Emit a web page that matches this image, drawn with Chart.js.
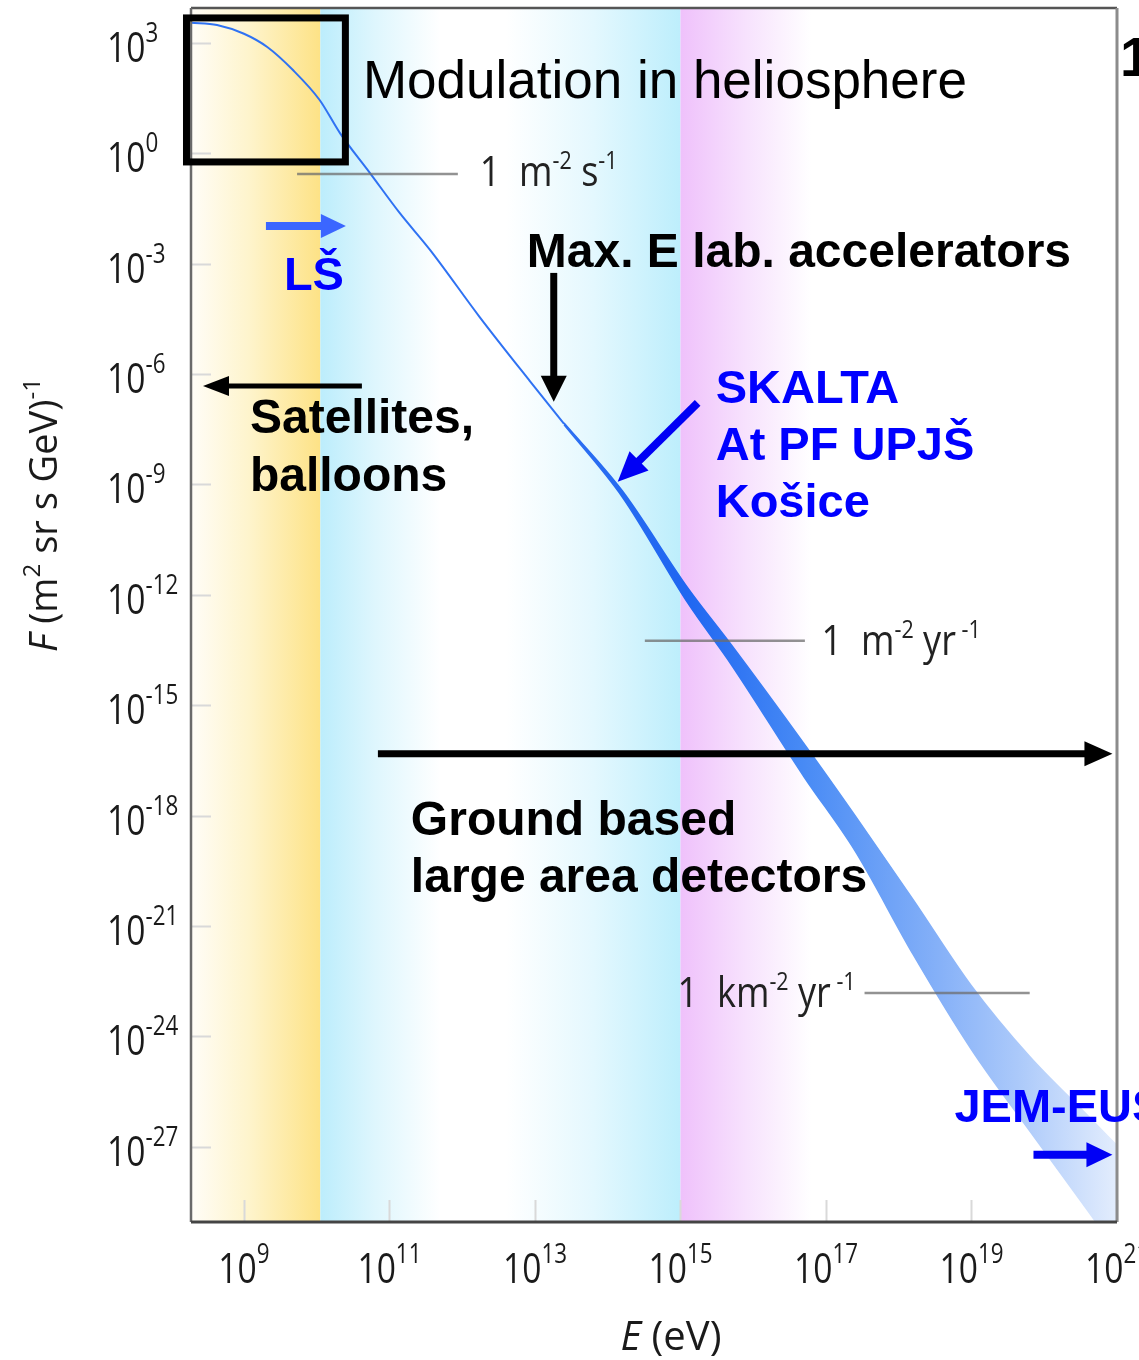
<!DOCTYPE html>
<html lang="en">
<head>
<meta charset="UTF-8" />
<title>Cosmic ray spectrum</title>
<script src="https://cdn.jsdelivr.net/npm/chart.js"></script>
<style>
    html, body { margin: 0; padding: 0; background: #fff; }
    #wrap { width: 1139px; height: 1360px; position: relative; }
</style>
</head>
<body>
<div id="wrap"><canvas id="myChart"></canvas></div>

<script>
    // values, as log10(E / eV) and log10(F)
    const lineLogE = [8.27, 8.63, 9.0, 9.32, 9.67, 10.04, 10.32, 10.73, 11.14, 11.56, 12.24, 12.93, 13.4];
    const lineLogF = [3.55, 3.49, 3.25, 2.89, 2.27, 1.45, 0.55, -0.53, -1.62, -2.63, -4.45, -6.19, -7.35];

    const bandLogE = [13.4, 14.2, 15.1, 15.7, 16.7, 17.4, 18.2, 19.0, 19.8, 20.6, 21.0];
    const bandUpperLogF = [-7.33, -9.17, -11.81, -13.36, -16.05, -18.0, -20.29, -22.63, -24.55, -26.16, -26.97];
    const bandLowerLogF = [-7.38, -9.34, -12.22, -13.9, -16.95, -18.96, -21.78, -24.36, -26.57, -28.74, -29.85];

    const xTickExps = [9, 11, 13, 15, 17, 19, 21];
    const yTickExps = [3, 0, -3, -6, -9, -12, -15, -18, -21, -24, -27];
    const xRange = [8.272, 21.0];
    const yRange = [-29.04, 3.95];

    // coloured energy regions (log10 E from, to)
    const regionFrom = [8.272, 10.05, 12.6, 15.0];
    const regionTo = [10.05, 11.7, 15.0, 16.8];

    // reference flux levels: [logE from, logE to, logF]
    const fluxLines = [[9.73, 11.94, -0.56], [14.51, 16.71, -13.25], [17.53, 19.80, -22.82]];

    const ctx = document.querySelector('#myChart');
    const pts = (es, fs) => es.map((e, i) => ({ x: Math.pow(10, e), y: Math.pow(10, fs[i]) }));

    function px(chart, e) { return chart.scales.x.getPixelForValue(Math.pow(10, e)); }
    function py(chart, f) { return chart.scales.y.getPixelForValue(Math.pow(10, f)); }

    function bandGradient(context) {
        const chart = context.chart;
        const area = chart.chartArea;
        if (!area) return '#2f6ff0';
        const x0 = px(chart, 13.4);
        const g = chart.ctx.createLinearGradient(x0, 0, area.right, 0);
        g.addColorStop(0, '#2c6ef2');
        g.addColorStop(0.22, '#1f66f1');
        g.addColorStop(0.43, '#478af5');
        g.addColorStop(0.68, '#86b1f8');
        g.addColorStop(0.82, '#abc9fa');
        g.addColorStop(1, '#e3edfd');
        return g;
    }

    // text with superscripts; parts = [text, isSup, isItalic]
    function richText(c, x, y, parts, o) {
        c.save();
        c.fillStyle = o.color || '#111';
        c.textBaseline = 'alphabetic';
        c.textAlign = 'left';
        const fontOf = p => (p[2] ? 'italic ' : '') + (p[1] ? o.supSize : o.size) + 'px ' + o.family;
        let total = 0;
        for (const p of parts) { c.font = fontOf(p); total += c.measureText(p[0]).width; }
        c.translate(x, y);
        c.scale(o.sx || 1, 1);
        let cx = o.align === 'center' ? -total / 2 : 0;
        for (const p of parts) {
            c.font = fontOf(p);
            c.fillText(p[0], cx, p[1] ? -o.rise : 0);
            cx += c.measureText(p[0]).width;
        }
        c.restore();
    }

    function arrow(c, x0, y0, x1, y1, w, hl, hw, color) {
        const a = Math.atan2(y1 - y0, x1 - x0);
        const bx = x1 - hl * Math.cos(a), by = y1 - hl * Math.sin(a);
        c.save();
        c.strokeStyle = color; c.fillStyle = color;
        c.lineWidth = w; c.lineCap = 'butt';
        c.beginPath(); c.moveTo(x0, y0); c.lineTo(bx + Math.cos(a), by + Math.sin(a)); c.stroke();
        c.beginPath();
        c.moveTo(x1, y1);
        c.lineTo(bx + hw / 2 * Math.sin(a), by - hw / 2 * Math.cos(a));
        c.lineTo(bx - hw / 2 * Math.sin(a), by + hw / 2 * Math.cos(a));
        c.closePath(); c.fill();
        c.restore();
    }

    const thinFont = '"Open Sans", "DejaVu Sans", sans-serif';

    const regionsPlugin = {
        id: 'regions',
        beforeDatasetsDraw(chart) {
            const c = chart.ctx, a = chart.chartArea;
            const stops = [
                [[0, '#fffdf7'], [0.45, '#fef4cc'], [1, '#fde286']],
                [[0, '#bcedfc'], [0.45, '#def6fd'], [1, '#ffffff']],
                [[0, '#ffffff'], [0.5, '#e4f8fe'], [1, '#bdeefc']],
                [[0, '#efc1fb'], [0.5, '#f7e2fd'], [1, '#ffffff']]
            ];
            c.save();
            regionFrom.forEach((e0, i) => {
                const x0 = px(chart, e0), x1 = px(chart, regionTo[i]);
                const g = c.createLinearGradient(x0, 0, x1, 0);
                stops[i].forEach(s => g.addColorStop(s[0], s[1]));
                c.fillStyle = g;
                c.fillRect(x0, a.top, x1 - x0, a.bottom - a.top);
            });
            // short inner tick marks
            c.strokeStyle = '#d9d9d9'; c.lineWidth = 2;
            yTickExps.forEach(t => {
                const y = Math.round(py(chart, t)) + 0.5;
                c.beginPath(); c.moveTo(a.left, y); c.lineTo(a.left + 20, y); c.stroke();
            });
            xTickExps.forEach(t => {
                const x = Math.round(px(chart, t)) + 0.5;
                c.beginPath(); c.moveTo(x, a.bottom); c.lineTo(x, a.bottom - 22); c.stroke();
            });
            c.restore();
        },
        afterDatasetsDraw(chart) {
            const c = chart.ctx, a = chart.chartArea;
            const X = e => px(chart, e), Y = f => py(chart, f);
            c.save();

            // frame
            c.lineWidth = 2.5;
            c.strokeStyle = '#555';
            c.beginPath(); c.moveTo(a.left, a.top); c.lineTo(a.right, a.top); c.stroke();
            c.strokeStyle = '#6a6a6a';
            c.beginPath(); c.moveTo(a.left, a.top); c.lineTo(a.left, a.bottom); c.stroke();
            c.strokeStyle = '#8c8c8c'; c.lineWidth = 3;
            c.beginPath(); c.moveTo(a.right, a.top); c.lineTo(a.right, a.bottom); c.stroke();
            c.strokeStyle = '#444'; c.lineWidth = 3;
            c.beginPath(); c.moveTo(a.left, a.bottom); c.lineTo(a.right, a.bottom); c.stroke();

            // reference flux levels
            c.strokeStyle = 'rgba(110,110,110,0.75)'; c.lineWidth = 2.5;
            fluxLines.forEach(l => {
                c.beginPath(); c.moveTo(X(l[0]), Y(l[2])); c.lineTo(X(l[1]), Y(l[2])); c.stroke();
            });
            const thin = { family: thinFont, size: 42, supSize: 25, rise: 17, sx: 0.86, color: '#222' };
            richText(c, X(12.24), Y(-0.89), [['1  m', 0], ['-2', 1], [' s', 0], ['-1', 1]], thin);
            richText(c, X(16.94), Y(-13.63), [['1  m', 0], ['-2', 1], [' yr', 0], [' -1', 1]], thin);
            richText(c, X(14.96), Y(-23.2), [['1  km', 0], ['-2', 1], [' yr', 0], [' -1', 1]], thin);

            // heliosphere box
            c.strokeStyle = '#000'; c.lineWidth = 7;
            c.strokeRect(X(8.21), Y(3.68), X(10.394) - X(8.21), Y(-0.234) - Y(3.68));

            c.textAlign = 'left'; c.textBaseline = 'alphabetic';
            c.font = '53px "Liberation Sans", Arial, sans-serif';
            c.fillStyle = '#000';
            c.fillText('Modulation in heliosphere', X(10.635), Y(1.505));
            c.font = 'bold 56px "Liberation Sans", Arial, sans-serif';
            c.fillText('1', a.right + 3, Y(2.1));

            c.font = 'bold 48px "Liberation Sans", Arial, sans-serif';
            c.fillText('Max. E lab. accelerators', X(12.887), Y(-3.087));
            c.fillText('Satellites,', X(9.082), Y(-7.6));
            c.fillText('balloons', X(9.082), Y(-9.17));
            c.fillText('Ground based', X(11.294), Y(-18.52));
            c.fillText('large area detectors', X(11.294), Y(-20.07));

            c.fillStyle = '#0000ff';
            c.font = 'bold 47px "Liberation Sans", Arial, sans-serif';
            c.fillText('LŠ', X(9.549), Y(-3.71));
            c.fillText('SKALTA', X(15.484), Y(-6.78));
            c.fillText('At PF UPJŠ', X(15.484), Y(-8.33));
            c.fillText('Košice', X(15.484), Y(-9.88));
            c.fillText('JEM-EUSO', X(18.766), Y(-26.32));

            arrow(c, X(13.258), Y(-3.25), X(13.258), Y(-6.755), 7, 26, 26, '#000');
            arrow(c, X(10.621), Y(-6.321), X(8.437), Y(-6.321), 5, 26, 20, '#000');
            arrow(c, X(10.841), Y(-16.32), X(20.937), Y(-16.32), 7, 28, 25, '#000');
            arrow(c, X(9.302), Y(-1.973), X(10.401), Y(-1.973), 8, 25, 24, '#3b66ff');
            arrow(c, X(15.236), Y(-6.783), X(14.137), Y(-8.929), 8, 30, 27, '#0000f5');
            arrow(c, X(19.852), Y(-27.217), X(20.937), Y(-27.217), 8, 26, 25, '#0000f5');

            // tick labels
            const lab = { family: thinFont, size: 42, supSize: 28, rise: 20, sx: 0.8, color: '#1a1a1a' };
            yTickExps.forEach(t => {
                richText(c, a.left - 84, Y(t) + 19, [['10', 0], [String(t), 1]], lab);
            });
            xTickExps.forEach(t => {
                richText(c, X(t), a.bottom + 61, [['10', 0], [String(t), 1]], Object.assign({ align: 'center' }, lab));
            });

            // axis titles
            richText(c, (a.left + a.right) / 2 + 17, a.bottom + 128,
                [['E', 0, 1], [' (eV)', 0]],
                { family: thinFont, size: 40, supSize: 22, rise: 14, sx: 1, color: '#1a1a1a', align: 'center' });
            c.save();
            c.translate(57, 515);
            c.rotate(-Math.PI / 2);
            richText(c, 0, 0, [['F', 0, 1], [' (m', 0], ['2', 1], [' sr s GeV)', 0], ['-1', 1]],
                { family: thinFont, size: 38, supSize: 24, rise: 17, sx: 1, color: '#1a1a1a', align: 'center' });
            c.restore();

            c.restore();
        }
    };

    const myChart = new Chart(ctx, {
        type: 'line',
        data: {
            datasets: [{
                label: 'spectrum',
                data: pts(lineLogE, lineLogF),
                borderColor: '#2f72f3',
                borderWidth: 2,
                pointRadius: 0,
                cubicInterpolationMode: 'monotone',
                fill: false
            }, {
                label: 'upper',
                data: pts(bandLogE, bandUpperLogF),
                borderColor: bandGradient,
                backgroundColor: bandGradient,
                borderWidth: 1.5,
                pointRadius: 0,
                cubicInterpolationMode: 'monotone',
                fill: '+1'
            }, {
                label: 'lower',
                data: pts(bandLogE, bandLowerLogF),
                borderColor: bandGradient,
                borderWidth: 1.5,
                pointRadius: 0,
                cubicInterpolationMode: 'monotone',
                fill: false
            }]
        },
        options: {
            responsive: true,
            maintainAspectRatio: false,
            animation: false,
            layout: { padding: { left: 191, top: 8, right: 22, bottom: 138 } },
            plugins: { legend: { display: false }, tooltip: { enabled: false } },
            scales: {
                x: { type: 'logarithmic', min: Math.pow(10, xRange[0]), max: Math.pow(10, xRange[1]), display: false },
                y: { type: 'logarithmic', min: Math.pow(10, yRange[0]), max: Math.pow(10, yRange[1]), display: false }
            }
        },
        plugins: [regionsPlugin]
    });
</script>
</body>
</html>
